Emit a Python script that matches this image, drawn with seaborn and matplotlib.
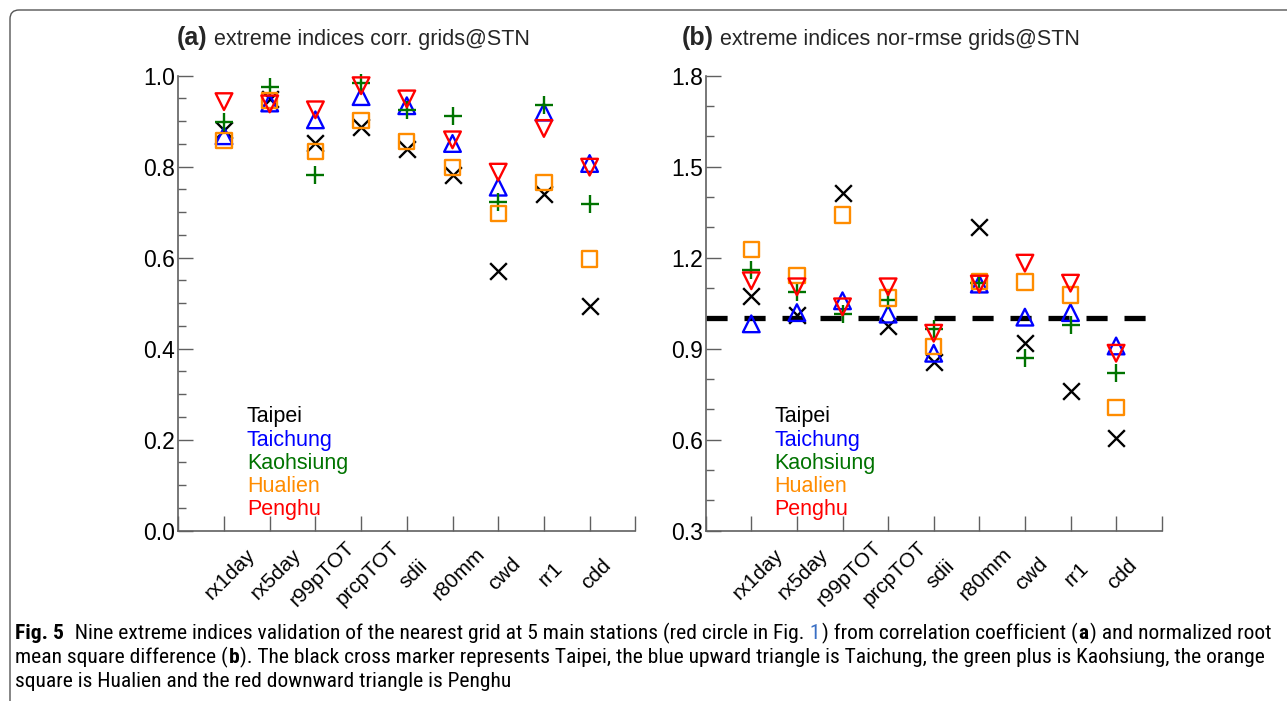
import numpy as np
import pandas as pd
import matplotlib
matplotlib.use("Agg")
import matplotlib.pyplot as plt
import seaborn as sns
from matplotlib.patches import FancyBboxPatch
from matplotlib.transforms import ScaledTranslation, IdentityTransform
from matplotlib.ticker import FormatStrFormatter
from matplotlib import font_manager as fm

# ---------------- data ----------------
indices = ["rx1day", "rx5day", "r99pTOT", "prcpTOT", "sdii", "r80mm", "cwd", "rr1", "cdd"]
stations = ["Taipei", "Taichung", "Kaohsiung", "Hualien", "Penghu"]

corr_taipei    = [0.880, 0.948, 0.851, 0.888, 0.838, 0.782, 0.571, 0.741, 0.494]
corr_taichung  = [0.868, 0.940, 0.903, 0.954, 0.934, 0.851, 0.755, 0.920, 0.807]
corr_kaohsiung = [0.899, 0.976, 0.782, 0.985, 0.925, 0.911, 0.723, 0.936, 0.719]
corr_hualien   = [0.858, 0.945, 0.834, 0.901, 0.856, 0.799, 0.697, 0.765, 0.597]
corr_penghu    = [0.943, 0.938, 0.925, 0.978, 0.949, 0.859, 0.788, 0.884, 0.799]

rmse_taipei    = [1.074, 1.011, 1.412, 0.975, 0.857, 1.302, 0.920, 0.762, 0.605]
rmse_taichung  = [0.982, 1.019, 1.058, 1.014, 0.885, 1.113, 1.004, 1.019, 0.909]
rmse_kaohsiung = [1.159, 1.088, 1.014, 1.061, 0.964, 1.118, 0.868, 0.978, 0.821]
rmse_hualien   = [1.228, 1.142, 1.341, 1.067, 0.907, 1.121, 1.120, 1.077, 0.707]
rmse_penghu    = [1.124, 1.104, 1.038, 1.104, 0.951, 1.113, 1.182, 1.116, 0.885]

corr_yticks = [0.0, 0.2, 0.4, 0.6, 0.8, 1.0]
rmse_yticks = [0.3, 0.6, 0.9, 1.2, 1.5, 1.8]

title_a = "extreme indices corr. grids@STN"
title_b = "extreme indices nor-rmse grids@STN"

corr_data = dict(zip(stations, [corr_taipei, corr_taichung, corr_kaohsiung, corr_hualien, corr_penghu]))
rmse_data = dict(zip(stations, [rmse_taipei, rmse_taichung, rmse_kaohsiung, rmse_hualien, rmse_penghu]))


def to_long(d):
    rows = []
    for st in stations:
        for i, v in enumerate(d[st]):
            rows.append({"pos": i + 1, "index": indices[i], "station": st, "value": v})
    return pd.DataFrame(rows)


df_corr = to_long(corr_data)
df_rmse = to_long(rmse_data)

# ---------------- style ----------------
sns.set_theme(style="ticks")
plt.rcParams["font.family"] = ["Liberation Sans", "DejaVu Sans"]

colors = {"Taipei": "#000000", "Taichung": "#0000ff", "Kaohsiung": "#007300",
          "Hualien": "#ff8c00", "Penghu": "#ff0000"}
markers = {"Taipei": "x", "Taichung": "^", "Kaohsiung": "+", "Hualien": "s", "Penghu": "v"}
msize = {"Taipei": 12, "Taichung": 12, "Kaohsiung": 13, "Hualien": 11, "Penghu": 12}
MLW = 1.7
GRAY = "#606060"

W, H = 1287, 701
fig = plt.figure(figsize=(W / 100, H / 100), dpi=100)
axA = fig.add_axes([178.3 / W, 170.3 / H, 457 / W, 455 / H])
axB = fig.add_axes([705.7 / W, 170.3 / H, 456 / W, 455 / H])


def draw_panel(ax, df, ylim, major, minor_step):
    for st in stations:
        sub = df[df["station"] == st]
        mk = markers[st]
        if mk in ("x", "+"):
            sns.scatterplot(data=sub, x="pos", y="value", marker=mk, s=msize[st] ** 2,
                            color=colors[st], linewidth=MLW, ax=ax, legend=False,
                            clip_on=False, zorder=3)
        else:
            sns.scatterplot(data=sub, x="pos", y="value", marker=mk, s=msize[st] ** 2,
                            facecolor="none", edgecolor=colors[st], linewidth=MLW, ax=ax,
                            legend=False, clip_on=False, zorder=3)
    ax.set_xlim(0, 10)
    ax.set_ylim(*ylim)
    ax.set_yticks(major)
    ax.set_yticks(np.arange(ylim[0], ylim[1] + 1e-9, minor_step), minor=True)
    ax.yaxis.set_major_formatter(FormatStrFormatter("%.1f"))
    ax.set_xticks(range(11), [""] + indices + [""])
    ax.tick_params(axis="y", which="major", direction="in", length=10.8, width=1.0,
                   color=GRAY, pad=2.2, labelsize=16.5, labelcolor="black")
    ax.tick_params(axis="y", which="minor", direction="in", length=5.8, width=1.0, color=GRAY)
    ax.tick_params(axis="x", which="major", direction="in", length=10.8, width=1.0,
                   color=GRAY, pad=31, labelsize=15, labelcolor="black")
    ax.tick_params(axis="x", which="minor", bottom=False)
    off = ScaledTranslation(0.065, 0, fig.dpi_scale_trans)
    for lab in ax.get_xticklabels():
        lab.set_rotation(45)
        lab.set_ha("center")
        lab.set_va("center")
        lab.set_rotation_mode("anchor")
        lab.set_transform(lab.get_transform() + off)
    sns.despine(ax=ax)
    for s in ("left", "bottom"):
        ax.spines[s].set_color(GRAY)
        ax.spines[s].set_linewidth(1.2)
    ax.set_xlabel("")
    ax.set_ylabel("")
    ax.grid(False)
    ys = [0.250, 0.199, 0.148, 0.097, 0.046]
    for st, yy in zip(stations, ys):
        ax.text(0.15, yy, st, transform=ax.transAxes, color=colors[st], fontsize=15.5,
                va="center", ha="left")


draw_panel(axA, df_corr, (0.0, 1.0), corr_yticks, 0.05)
draw_panel(axB, df_rmse, (0.3, 1.8), rmse_yticks, 0.1)
axB.axhline(1.0, color="black", lw=3.8, dashes=(4.0, 3.2), zorder=2)

# titles
fig.text(177 / W, 1 - 45 / H, "(a)", fontsize=18, fontweight="bold", va="baseline", ha="left")
fig.text(214 / W, 1 - 45 / H, title_a, fontsize=15.5, va="baseline", ha="left")
fig.text(682 / W, 1 - 45 / H, "(b)", fontsize=18, fontweight="bold", va="baseline", ha="left")
fig.text(720 / W, 1 - 45 / H, title_b, fontsize=15.5, va="baseline", ha="left")

# frame
frame = FancyBboxPatch((10, -40), 1330, 731, boxstyle="round,pad=0,rounding_size=9",
                       transform=IdentityTransform(), facecolor="none", edgecolor="#555555",
                       linewidth=1.0)
fig.add_artist(frame)

# caption
names = {f.name for f in fm.fontManager.ttflist}
cap_kw = {"family": ["Liberation Sans", "DejaVu Sans"]}
for cand in ["Liberation Sans Narrow", "Roboto Condensed", "Open Sans Condensed", "Noto Sans Condensed"]:
    if cand in names:
        cap_kw = {"family": [cand, "DejaVu Sans"]}
        break
else:
    for f in fm.fontManager.ttflist:
        if f.name in ("DejaVu Sans", "Noto Sans", "Open Sans", "Roboto") and f.stretch == "condensed":
            cap_kw = {"family": [f.name, "DejaVu Sans"], "stretch": "condensed"}
            break

BLUE_REF = "#3a6fc4"
cap_lines = [
    [("Fig. 5", "bold", "black"),
     ("  Nine extreme indices validation of the nearest grid at 5 main stations (red circle in Fig.", "normal", "black"),
     (" 1", "normal", BLUE_REF),
     (") from correlation coefficient (", "normal", "black"),
     ("a", "bold", "black"),
     (") and normalized root", "normal", "black")],
    [("mean square difference (", "normal", "black"),
     ("b", "bold", "black"),
     ("). The black cross marker represents Taipei, the blue upward triangle is Taichung, the green plus is Kaohsiung, the orange", "normal", "black")],
    [("square is Hualien and the red downward triangle is Penghu", "normal", "black")],
]
renderer = fig.canvas.get_renderer()


def line_width(segs, size):
    tot = 0
    for txt, w, c in segs:
        t = fig.text(0, 0, txt, fontsize=size, fontweight=w, **cap_kw)
        tot += t.get_window_extent(renderer).width + 1
        t.remove()
    return tot


cap_size = 12 * 1258 / line_width(cap_lines[0], 12)
baselines = [639, 663, 687]
for segs, yb in zip(cap_lines, baselines):
    x = 15
    for txt, w, c in segs:
        t = fig.text(x / W, 1 - yb / H, txt, fontsize=cap_size, fontweight=w, color=c,
                     va="baseline", ha="left", **cap_kw)
        x += t.get_window_extent(renderer).width + 1

fig.savefig("out.png", dpi=100)
